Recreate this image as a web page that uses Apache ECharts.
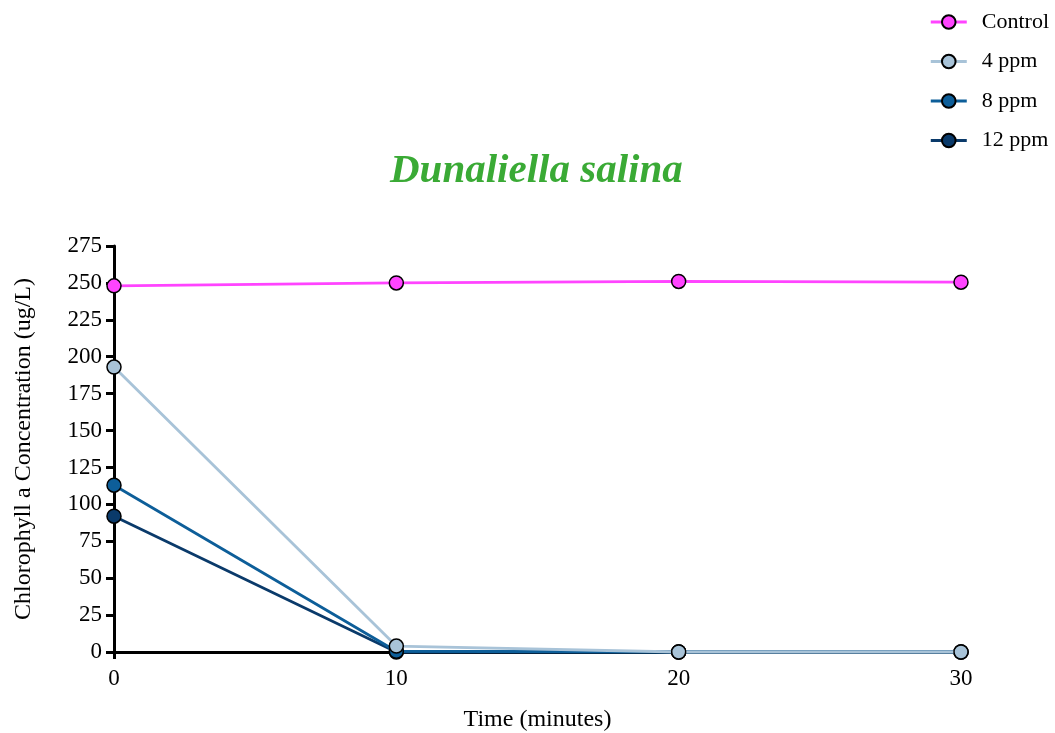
<!DOCTYPE html>
<html>
<head>
<meta charset="utf-8">
<script src="https://cdn.jsdelivr.net/npm/echarts@6/dist/echarts.min.js"></script>
<style>
  html, body { margin: 0; padding: 0; background: #fff; }
  #chart { width: 1055px; height: 733px; }
</style>
</head>
<body>
<div id="chart"></div>
<script>
// Sampling times (minutes)
const times = [0, 10, 20, 30];

// Chlorophyll a concentration (ug/L) per treatment
const control = [248, 250, 251, 250.5];
const ppm4 = [193, 4, 0, 0];
const ppm8 = [113, 0.5, 0, 0];
const ppm12 = [92, 0, 0, 0];

const seriesNames = ['Control', '4 ppm', '8 ppm', '12 ppm'];
const seriesColors = ['#ff44ff', '#a8c3d8', '#0d5e99', '#0a3a6a'];
const seriesValues = [control, ppm4, ppm8, ppm12];

const fontFamily = '"Liberation Serif", "Times New Roman", serif';

const chart = echarts.init(document.getElementById('chart'));

chart.setOption({
  backgroundColor: '#ffffff',
  animation: false,
  title: {
    text: 'Dunaliella salina',
    left: 385,
    top: 146,
    textStyle: {
      fontFamily: fontFamily,
      fontStyle: 'italic',
      fontWeight: 'bold',
      fontSize: 41,
      color: '#3aaa35'
    }
  },
  legend: {
    orient: 'vertical',
    right: 1,
    top: 6,
    itemWidth: 36,
    itemHeight: 17,
    itemGap: 17.5,
    lineStyle: { width: 3 },
    textStyle: { fontFamily: fontFamily, fontSize: 22, color: '#000', padding: [0, 0, 0, 10] },
    data: seriesNames
  },
  grid: {
    left: 114, right: 94, top: 246, bottom: 81,
    containLabel: false,
    outerBoundsMode: 'none'
  },
  xAxis: {
    type: 'value',
    min: 0,
    max: 30,
    interval: 10,
    name: 'Time (minutes)',
    nameLocation: 'middle',
    nameGap: 56,
    nameTextStyle: { fontFamily: fontFamily, fontSize: 24, color: '#000' },
    axisLine: { lineStyle: { color: '#000', width: 3 } },
    axisTick: { show: true, length: 7, lineStyle: { color: '#000', width: 3 } },
    axisLabel: { fontFamily: fontFamily, fontSize: 23, color: '#000', margin: 15 },
    splitLine: { show: false }
  },
  yAxis: {
    type: 'value',
    min: 0,
    max: 275,
    interval: 25,
    name: 'Chlorophyll a Concentration (ug/L)',
    nameLocation: 'middle',
    nameGap: 78,
    nameTextStyle: { fontFamily: fontFamily, fontSize: 24, color: '#000' },
    axisLine: { show: true, lineStyle: { color: '#000', width: 3 } },
    axisTick: { show: true, length: 8, lineStyle: { color: '#000', width: 3 } },
    axisLabel: { fontFamily: fontFamily, fontSize: 23, color: '#000', margin: 12 },
    splitLine: { show: false }
  },
  series: seriesNames.map((name, i) => ({
    name: name,
    type: 'line',
    data: times.map((t, j) => [t, seriesValues[i][j]]),
    symbol: 'circle',
    symbolSize: 14,
    z: 10 - i,
    clip: false,
    lineStyle: { color: seriesColors[i], width: 2.8 },
    itemStyle: { color: seriesColors[i], borderColor: '#000', borderWidth: 1.5 }
  }))
});
</script>
</body>
</html>
